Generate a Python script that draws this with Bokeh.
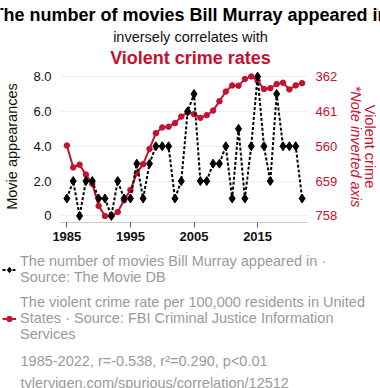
from bokeh.plotting import figure
from bokeh.layouts import column
from bokeh.models import (Range1d, LinearAxis, FixedTicker, Label, Legend,
                          LegendItem, ColumnDataSource)
from bokeh.embed import file_html
from bokeh.resources import INLINE

# ---- data ----
years = list(range(1985, 2023))
movies = [1, 2, 0, 2, 2, 1, 1, 0, 2, 1, 1, 3, 1, 3, 4, 4, 4, 1, 2, 6,
          7, 2, 2, 3, 3, 4, 1, 5, 1, 4, 8, 4, 2, 7, 4, 4, 4, 1]
crime = [558.1, 620.1, 612.5, 640.6, 666.9, 729.6, 758.2, 757.7, 747.1, 713.6,
         684.5, 636.6, 611.0, 567.6, 523.0, 506.5, 504.5, 494.4, 475.8, 463.2,
         469.0, 479.3, 471.8, 458.6, 431.9, 404.5, 387.1, 387.8, 369.1, 361.6,
         373.7, 397.5, 394.9, 383.4, 379.4, 398.5, 387.0, 380.7]
x_ticks = [1985, 1995, 2005, 2015]
left_ticks = [0, 2, 4, 6, 8]
left_labels = ["0", "2.0", "4.0", "6.0", "8.0"]
right_ticks = [362, 461, 560, 659, 758]

title_text = "The number of movies Bill Murray appeared in"
subtitle_text = "inversely correlates with"
title2_text = "Violent crime rates"
legend1 = "The number of movies Bill Murray appeared in \u00b7\nSource: The Movie DB"
legend2 = ("The violent crime rate per 100,000 residents in United\n"
           "States \u00b7 Source: FBI Criminal Justice Information\nServices")
stats_text = "1985-2022, r=-0.538, r\u00b2=0.290, p<0.01"
url_text = "tylervigen.com/spurious/correlation/12512"

RED = "#c4122f"
GRAY = "#9a9a9a"
FONT = "Liberation Sans"
W = 380


def lab(text, x, y, size, color="#111111", style="normal", align="left",
        baseline="alphabetic"):
    return Label(x=x, y=y, x_units="canvas", y_units="canvas", text=text,
                 text_font=FONT, text_font_size=size, text_color=color,
                 text_font_style=style, text_align=align,
                 text_baseline=baseline)


def text_panel(h):
    f = figure(width=W, height=h, output_backend="svg", toolbar_location=None,
               x_range=Range1d(0, 1), y_range=Range1d(0, 1),
               x_axis_type=None, y_axis_type=None, min_border=0)
    f.outline_line_color = None
    f.grid.visible = False
    return f


src = ColumnDataSource(dict(year=years, movies=movies, crime=crime))

# ---- header (titles) ----
head = text_panel(64)
head.add_layout(lab(title_text, 190, 14, "18px", "black", "bold", "center"))
head.add_layout(lab(subtitle_text, 190, 36, "14.5px", "#111111", "normal", "center"))
head.add_layout(lab(title2_text, 190, 57.5, "18px", RED, "bold", "center"))

# ---- main chart ----
p = figure(width=W, height=187, output_backend="svg", toolbar_location=None,
           x_range=Range1d(1984.0, 2022.85), y_range=Range1d(-0.38, 8.35),
           min_border_left=60, min_border_right=73, min_border_top=6,
           min_border_bottom=29)
p.extra_y_ranges = {"crime": Range1d(758 + 0.38 * 49.5, 758 - 8.35 * 49.5)}
p.outline_line_color = None
p.xgrid.visible = False
p.ygrid.ticker = FixedTicker(ticks=left_ticks)
p.ygrid.grid_line_color = "#eeeeee"

xa = p.xaxis[0]
xa.ticker = FixedTicker(ticks=x_ticks)
xa.axis_line_color = "#cccccc"
xa.major_tick_line_color = "#555555"
xa.major_tick_out = 5
xa.major_tick_in = 0
xa.minor_tick_line_color = None
xa.major_label_standoff = 4
xa.major_label_text_font = FONT
xa.major_label_text_font_size = "13px"
xa.major_label_text_font_style = "bold"
xa.major_label_text_color = "#111111"

ya = p.yaxis[0]
ya.ticker = FixedTicker(ticks=left_ticks)
ya.major_label_overrides = dict(zip(left_ticks, left_labels))
ya.axis_line_color = None
ya.major_tick_line_color = None
ya.minor_tick_line_color = None
ya.major_tick_out = 0
ya.major_tick_in = 0
ya.major_label_standoff = 9
ya.major_label_text_font = FONT
ya.major_label_text_font_size = "13px"
ya.major_label_text_color = "#111111"
ya.axis_label = "Movie appearances"
ya.axis_label_text_font = FONT
ya.axis_label_text_font_size = "14.5px"
ya.axis_label_text_font_style = "normal"
ya.axis_label_text_color = "#111111"
ya.axis_label_standoff = 10

ra = LinearAxis(y_range_name="crime", ticker=FixedTicker(ticks=right_ticks))
ra.axis_line_color = None
ra.major_tick_line_color = None
ra.minor_tick_line_color = None
ra.major_tick_out = 0
ra.major_tick_in = 0
ra.major_label_standoff = 8
ra.major_label_text_font = FONT
ra.major_label_text_font_size = "13px"
ra.major_label_text_color = RED
ra.axis_label = "*Note inverted axis"
ra.axis_label_text_font = FONT
ra.axis_label_text_font_size = "14.5px"
ra.axis_label_text_font_style = "italic"
ra.axis_label_text_color = RED
ra.axis_label_standoff = 8
p.add_layout(ra, "right")

ra2 = LinearAxis(y_range_name="crime", ticker=FixedTicker(ticks=[]))
ra2.axis_line_color = None
ra2.major_tick_line_color = None
ra2.minor_tick_line_color = None
ra2.major_tick_out = 0
ra2.major_tick_in = 0
ra2.major_label_standoff = 0
ra2.axis_label = "Violent crime"
ra2.axis_label_text_font = FONT
ra2.axis_label_text_font_size = "14.5px"
ra2.axis_label_text_font_style = "normal"
ra2.axis_label_text_color = RED
ra2.axis_label_standoff = -6
p.add_layout(ra2, "right")

r_line = p.line("year", "crime", source=src, y_range_name="crime",
                line_color=RED, line_width=2)
r_dot = p.scatter("year", "crime", source=src, y_range_name="crime",
                  size=5.5, color=RED)
b_line = p.line("year", "movies", source=src, line_color="black",
                line_width=2, line_dash="3 2")
b_dot = p.scatter("year", "movies", source=src, marker="diamond", size=9,
                  color="black")

# ---- footer: legend + notes ----
# the legend keys come from the same series drawn with the same styles
# (outside this strip's visible range, so only the keys show)
foot = text_panel(137)
kb_line = foot.line("year", "movies", source=src, line_color="black",
                    line_width=2, line_dash="3 2")
kb_dot = foot.scatter("year", "movies", source=src, marker="diamond", size=9,
                      color="black")
kr_line = foot.line("year", "crime", source=src, line_color=RED, line_width=2)
kr_dot = foot.scatter("year", "crime", source=src, size=5.5, color=RED)

legend = Legend(items=[LegendItem(label=legend1, renderers=[kb_line, kb_dot]),
                       LegendItem(label=legend2, renderers=[kr_line, kr_dot])],
                location="top_left")
legend.label_text_font = FONT
legend.label_text_font_size = "14.5px"
legend.label_text_color = GRAY
legend.label_text_line_height = 1.08
legend.label_standoff = 4
legend.glyph_width = 14
legend.glyph_height = 15
legend.padding = 0
legend.margin = 2
legend.spacing = 9
legend.border_line_color = None
legend.background_fill_alpha = 0
foot.add_layout(legend)
foot.add_layout(lab(stats_text, 20, 109, "14.5px", GRAY))
foot.add_layout(lab(url_text, 20, 131, "14.5px", GRAY))

for f in (head, p, foot):
    try:
        f.frame_align = False
    except Exception:
        pass

layout = column(head, p, foot, spacing=0)
open("out.html", "w").write(file_html(layout, INLINE))
